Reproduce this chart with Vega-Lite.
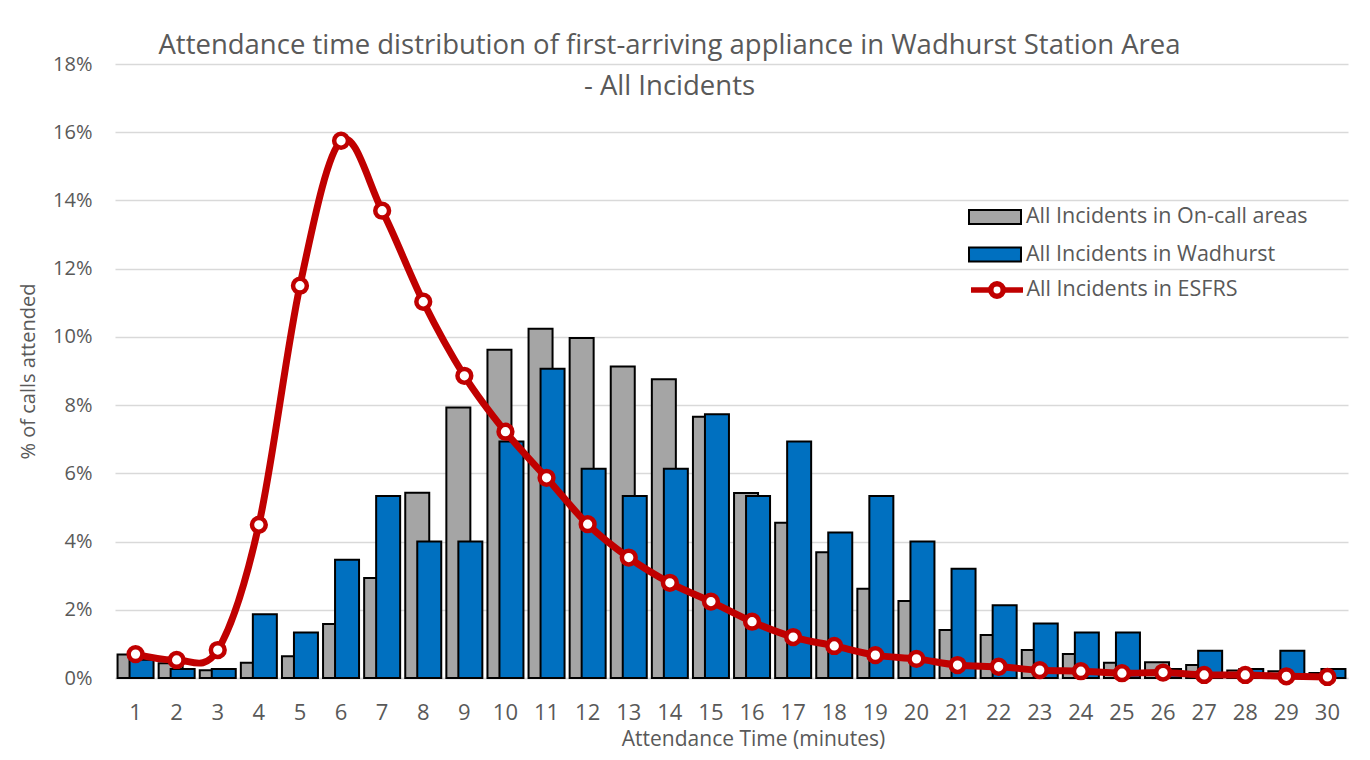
{
  "$schema": "https://vega.github.io/schema/vega-lite/v6.json",
  "autosize": {"type": "none"},
  "padding": {"left": 115, "top": 64, "right": 22, "bottom": 82},
  "width": 1233,
  "height": 614,
  "background": "#ffffff",
  "config": {
    "font": "Open Sans",
    "view": {"stroke": null},
    "axis": {"labelFont": "Open Sans", "titleFont": "Open Sans", "labelColor": "#595959", "titleColor": "#595959", "titleFontWeight": "normal"},
    "legend": {"labelFont": "Open Sans", "labelColor": "#595959", "labelFontSize": 21.5, "labelLimit": 500, "padding": 0, "clipHeight": 18, "rowPadding": 15.5, "labelOffset": 4, "symbolSize": 2700, "orient": "none"}
  },
  "title": {
    "text": ["Attendance time distribution of first-arriving appliance in Wadhurst Station Area", "- All Incidents"],
    "fontSize": 27.5,
    "fontWeight": "normal",
    "color": "#595959",
    "lineHeight": 41,
    "anchor": "middle",
    "dx": -62,
    "offset": -46
  },
  "datasets": {
    "rows": [
      {"minute": 1, "series": "All Incidents in On-call areas", "value": 0.69},
      {"minute": 2, "series": "All Incidents in On-call areas", "value": 0.43},
      {"minute": 3, "series": "All Incidents in On-call areas", "value": 0.23},
      {"minute": 4, "series": "All Incidents in On-call areas", "value": 0.45},
      {"minute": 5, "series": "All Incidents in On-call areas", "value": 0.64},
      {"minute": 6, "series": "All Incidents in On-call areas", "value": 1.58},
      {"minute": 7, "series": "All Incidents in On-call areas", "value": 2.93},
      {"minute": 8, "series": "All Incidents in On-call areas", "value": 5.43},
      {"minute": 9, "series": "All Incidents in On-call areas", "value": 7.93},
      {"minute": 10, "series": "All Incidents in On-call areas", "value": 9.62},
      {"minute": 11, "series": "All Incidents in On-call areas", "value": 10.24},
      {"minute": 12, "series": "All Incidents in On-call areas", "value": 9.97},
      {"minute": 13, "series": "All Incidents in On-call areas", "value": 9.13},
      {"minute": 14, "series": "All Incidents in On-call areas", "value": 8.76},
      {"minute": 15, "series": "All Incidents in On-call areas", "value": 7.66},
      {"minute": 16, "series": "All Incidents in On-call areas", "value": 5.42},
      {"minute": 17, "series": "All Incidents in On-call areas", "value": 4.55},
      {"minute": 18, "series": "All Incidents in On-call areas", "value": 3.69},
      {"minute": 19, "series": "All Incidents in On-call areas", "value": 2.62},
      {"minute": 20, "series": "All Incidents in On-call areas", "value": 2.26},
      {"minute": 21, "series": "All Incidents in On-call areas", "value": 1.41},
      {"minute": 22, "series": "All Incidents in On-call areas", "value": 1.26},
      {"minute": 23, "series": "All Incidents in On-call areas", "value": 0.82},
      {"minute": 24, "series": "All Incidents in On-call areas", "value": 0.7},
      {"minute": 25, "series": "All Incidents in On-call areas", "value": 0.45},
      {"minute": 26, "series": "All Incidents in On-call areas", "value": 0.46},
      {"minute": 27, "series": "All Incidents in On-call areas", "value": 0.38},
      {"minute": 28, "series": "All Incidents in On-call areas", "value": 0.22},
      {"minute": 29, "series": "All Incidents in On-call areas", "value": 0.2},
      {"minute": 30, "series": "All Incidents in On-call areas", "value": 0.15},
      {"minute": 1, "series": "All Incidents in Wadhurst", "value": 0.533},
      {"minute": 2, "series": "All Incidents in Wadhurst", "value": 0.267},
      {"minute": 3, "series": "All Incidents in Wadhurst", "value": 0.267},
      {"minute": 4, "series": "All Incidents in Wadhurst", "value": 1.867},
      {"minute": 5, "series": "All Incidents in Wadhurst", "value": 1.333},
      {"minute": 6, "series": "All Incidents in Wadhurst", "value": 3.467},
      {"minute": 7, "series": "All Incidents in Wadhurst", "value": 5.333},
      {"minute": 8, "series": "All Incidents in Wadhurst", "value": 4.0},
      {"minute": 9, "series": "All Incidents in Wadhurst", "value": 4.0},
      {"minute": 10, "series": "All Incidents in Wadhurst", "value": 6.933},
      {"minute": 11, "series": "All Incidents in Wadhurst", "value": 9.067},
      {"minute": 12, "series": "All Incidents in Wadhurst", "value": 6.133},
      {"minute": 13, "series": "All Incidents in Wadhurst", "value": 5.333},
      {"minute": 14, "series": "All Incidents in Wadhurst", "value": 6.133},
      {"minute": 15, "series": "All Incidents in Wadhurst", "value": 7.733},
      {"minute": 16, "series": "All Incidents in Wadhurst", "value": 5.333},
      {"minute": 17, "series": "All Incidents in Wadhurst", "value": 6.933},
      {"minute": 18, "series": "All Incidents in Wadhurst", "value": 4.267},
      {"minute": 19, "series": "All Incidents in Wadhurst", "value": 5.333},
      {"minute": 20, "series": "All Incidents in Wadhurst", "value": 4.0},
      {"minute": 21, "series": "All Incidents in Wadhurst", "value": 3.2},
      {"minute": 22, "series": "All Incidents in Wadhurst", "value": 2.133},
      {"minute": 23, "series": "All Incidents in Wadhurst", "value": 1.6},
      {"minute": 24, "series": "All Incidents in Wadhurst", "value": 1.333},
      {"minute": 25, "series": "All Incidents in Wadhurst", "value": 1.333},
      {"minute": 26, "series": "All Incidents in Wadhurst", "value": 0.267},
      {"minute": 27, "series": "All Incidents in Wadhurst", "value": 0.8},
      {"minute": 28, "series": "All Incidents in Wadhurst", "value": 0.267},
      {"minute": 29, "series": "All Incidents in Wadhurst", "value": 0.8},
      {"minute": 30, "series": "All Incidents in Wadhurst", "value": 0.267},
      {"minute": 1, "series": "All Incidents in ESFRS", "value": 0.7},
      {"minute": 2, "series": "All Incidents in ESFRS", "value": 0.53},
      {"minute": 3, "series": "All Incidents in ESFRS", "value": 0.82},
      {"minute": 4, "series": "All Incidents in ESFRS", "value": 4.49},
      {"minute": 5, "series": "All Incidents in ESFRS", "value": 11.5},
      {"minute": 6, "series": "All Incidents in ESFRS", "value": 15.75},
      {"minute": 7, "series": "All Incidents in ESFRS", "value": 13.7},
      {"minute": 8, "series": "All Incidents in ESFRS", "value": 11.03},
      {"minute": 9, "series": "All Incidents in ESFRS", "value": 8.86},
      {"minute": 10, "series": "All Incidents in ESFRS", "value": 7.22},
      {"minute": 11, "series": "All Incidents in ESFRS", "value": 5.87},
      {"minute": 12, "series": "All Incidents in ESFRS", "value": 4.51},
      {"minute": 13, "series": "All Incidents in ESFRS", "value": 3.53},
      {"minute": 14, "series": "All Incidents in ESFRS", "value": 2.79},
      {"minute": 15, "series": "All Incidents in ESFRS", "value": 2.24},
      {"minute": 16, "series": "All Incidents in ESFRS", "value": 1.65},
      {"minute": 17, "series": "All Incidents in ESFRS", "value": 1.2},
      {"minute": 18, "series": "All Incidents in ESFRS", "value": 0.94},
      {"minute": 19, "series": "All Incidents in ESFRS", "value": 0.67},
      {"minute": 20, "series": "All Incidents in ESFRS", "value": 0.56},
      {"minute": 21, "series": "All Incidents in ESFRS", "value": 0.38},
      {"minute": 22, "series": "All Incidents in ESFRS", "value": 0.33},
      {"minute": 23, "series": "All Incidents in ESFRS", "value": 0.23},
      {"minute": 24, "series": "All Incidents in ESFRS", "value": 0.2},
      {"minute": 25, "series": "All Incidents in ESFRS", "value": 0.14},
      {"minute": 26, "series": "All Incidents in ESFRS", "value": 0.16},
      {"minute": 27, "series": "All Incidents in ESFRS", "value": 0.09},
      {"minute": 28, "series": "All Incidents in ESFRS", "value": 0.09},
      {"minute": 29, "series": "All Incidents in ESFRS", "value": 0.05},
      {"minute": 30, "series": "All Incidents in ESFRS", "value": 0.03}
    ]
  },
  "data": {"name": "rows"},
  "encoding": {
    "x": {
      "field": "minute",
      "type": "ordinal",
      "scale": {"paddingInner": 0.416, "paddingOuter": 0.208},
      "axis": {
        "title": "Attendance Time (minutes)",
        "titleFontSize": 21,
        "titleX": 638,
        "titlePadding": 5,
        "labelFontSize": 22,
        "labelAngle": 0,
        "labelPadding": 24,
        "ticks": false,
        "tickSize": 0,
        "domainColor": "#d9d9d9",
        "domainWidth": 1.5,
        "grid": false
      }
    },
    "y": {
      "field": "value",
      "type": "quantitative",
      "scale": {"domain": [0, 18], "nice": false},
      "axis": {
        "title": "% of calls attended",
        "titleFontSize": 20,
        "titlePadding": 14,
        "labelFontSize": 20,
        "labelPadding": 23,
        "values": [0, 2, 4, 6, 8, 10, 12, 14, 16, 18],
        "labelExpr": "datum.value + '%'",
        "domain": false,
        "ticks": false,
        "gridColor": "#d9d9d9",
        "gridWidth": 1.5
      }
    }
  },
  "layer": [
    {
      "transform": [{"filter": "datum.series !== 'All Incidents in ESFRS'"}],
      "mark": {"type": "bar", "width": 24, "stroke": "#000000", "strokeWidth": 2},
      "encoding": {
        "xOffset": {"field": "series", "type": "nominal", "scale": {"domain": ["All Incidents in On-call areas", "All Incidents in Wadhurst"], "paddingInner": 0, "paddingOuter": 0}},
        "fill": {
          "field": "series",
          "type": "nominal",
          "scale": {"domain": ["All Incidents in On-call areas", "All Incidents in Wadhurst"], "range": ["#A5A5A5", "#0070C0"]},
          "legend": {
            "title": null,
            "legendX": 853,
            "legendY": 144,
            "symbolType": "M-1,-0.27H1V0.27H-1Z",
            "symbolStrokeColor": "#000000",
            "symbolStrokeWidth": 2,
            "symbolOpacity": 1
          }
        }
      }
    },
    {
      "transform": [{"filter": "datum.series === 'All Incidents in ESFRS'"}],
      "mark": {"type": "line", "interpolate": "cardinal", "strokeWidth": 7},
      "encoding": {
        "stroke": {
          "field": "series",
          "type": "nominal",
          "scale": {"domain": ["All Incidents in ESFRS"], "range": ["#C00000"]},
          "legend": {
            "title": null,
            "legendX": 853,
            "legendY": 217,
            "labelOffset": 0.5,
            "symbolType": "M-1,0H-0.27M0.27,0H1M-0.24,0A0.24,0.24 0 1,1 0.24,0A0.24,0.24 0 1,1 -0.24,0Z",
            "symbolFillColor": "#ffffff",
            "symbolStrokeWidth": 5.5,
            "symbolOpacity": 1
          }
        }
      }
    },
    {
      "transform": [{"filter": "datum.series === 'All Incidents in ESFRS'"}],
      "mark": {"type": "point", "shape": "circle", "filled": true, "fill": "#ffffff", "stroke": "#C00000", "strokeWidth": 4.5, "size": 190, "opacity": 1},
      "encoding": {}
    }
  ]
}
